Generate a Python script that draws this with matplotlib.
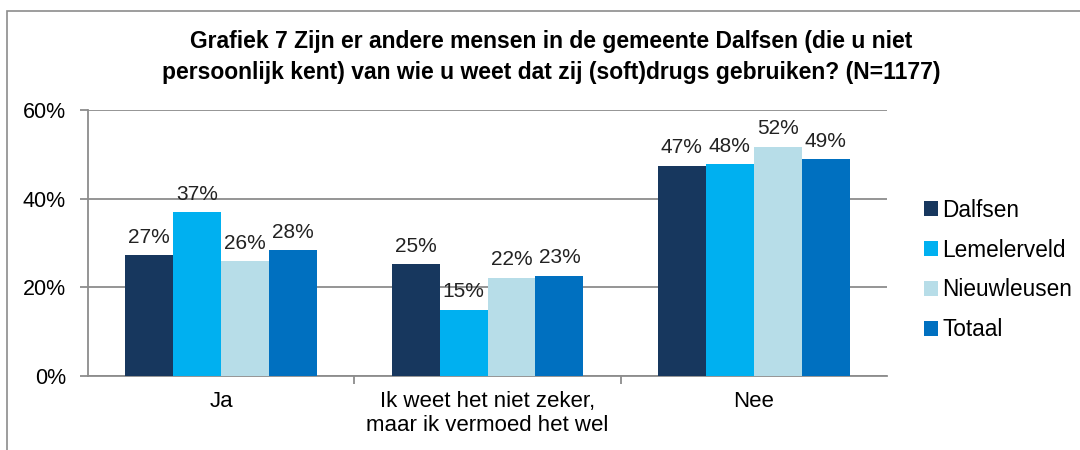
import matplotlib.pyplot as plt
import numpy as np
from matplotlib.patches import Rectangle

plt.rcParams['font.family'] = ['Liberation Sans', 'DejaVu Sans']

categories = ["Ja", "Ik weet het niet zeker,\nmaar ik vermoed het wel", "Nee"]
series = ["Dalfsen", "Lemelerveld", "Nieuwleusen", "Totaal"]
values = {
    "Dalfsen": [27.2, 25.2, 47.4],
    "Lemelerveld": [37.0, 15.0, 47.8],
    "Nieuwleusen": [25.9, 22.2, 51.7],
    "Totaal": [28.4, 22.6, 48.9],
}
labels = {
    "Dalfsen": ["27%", "25%", "47%"],
    "Lemelerveld": ["37%", "15%", "48%"],
    "Nieuwleusen": ["26%", "22%", "52%"],
    "Totaal": ["28%", "23%", "49%"],
}
colors = ["#17375E", "#00B0F0", "#B7DDE8", "#0070C0"]
yticks = [0, 20, 40, 60]

fig = plt.figure(figsize=(10.8, 4.5), dpi=100)
fig.patches.append(Rectangle((7 / 1080, -0.1), 1.2, (450 - 11) / 450 + 0.1,
                             transform=fig.transFigure, fill=False,
                             edgecolor="#8C8C8C", linewidth=1.2))

ax = fig.add_axes([88 / 1080, (450 - 376) / 450, 799 / 1080, 266 / 450])

x = np.arange(len(categories))
w = 0.18
grid_c = "#8C8C8C"
for i, (name, col) in enumerate(zip(series, colors)):
    pos = x + (i - 1.5) * w
    ax.bar(pos, values[name], width=w, color=col, label=name, zorder=3)
    for px, v, lab in zip(pos, values[name], labels[name]):
        ax.text(px, v + 1.9, lab, ha="center", va="bottom", fontsize=15,
                color="#222222", zorder=4)

ax.set_xlim(-0.5, 2.5)
ax.set_ylim(0, 60)
ax.set_yticks(yticks)
ax.set_yticklabels([f"{t}%" for t in yticks], fontsize=15.5)
ax.yaxis.grid(True, color=grid_c, linewidth=1.3, zorder=0)
ax.set_xticks(x)
ax.set_xticklabels(categories, fontsize=16, linespacing=1.15)
ax.set_xticks([0.5, 1.5], minor=True)
ax.tick_params(axis="x", which="major", length=0, pad=11)
ax.tick_params(axis="x", which="minor", length=6, color=grid_c, width=1.3)
ax.tick_params(axis="y", length=6, color=grid_c, width=1.3, pad=10)
for s in ["top", "right"]:
    ax.spines[s].set_visible(False)
for s in ["left", "bottom"]:
    ax.spines[s].set_color(grid_c)
    ax.spines[s].set_linewidth(1.3)

fig.text(0.51, (450 - 57) / 450,
         "Grafiek 7 Zijn er andere mensen in de gemeente Dalfsen (die u niet\n"
         "persoonlijk kent) van wie u weet dat zij (soft)drugs gebruiken? (N=1177)",
         ha="center", va="center", fontsize=16.5, fontweight="bold",
         linespacing=1.45)

fig.legend(loc="center left", bbox_to_anchor=(913 / 1080, (450 - 270) / 450),
           frameon=False, fontsize=16.3, handlelength=0.6, handleheight=0.6,
           handletextpad=0.2, labelspacing=0.75, borderpad=0)

fig.savefig("out.png", dpi=100)
